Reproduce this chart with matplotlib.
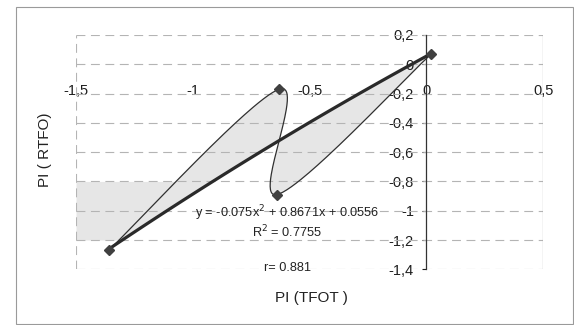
import numpy as np
import matplotlib
matplotlib.use("Agg")
import matplotlib.pyplot as plt
from matplotlib.patches import Rectangle

plt.rcParams["font.family"] = ["Liberation Sans", "DejaVu Sans"]

# punti
tfot = [-1.36, -0.63, -0.64, 0.02]
rtfo = [-1.27, -0.17, -0.89, 0.07]

# trend polinomiale (coefficienti dal grafico)
coef = [-0.075, 0.8671, 0.0556]
eq_txt = "y = -0.075x$^2$ + 0.8671x + 0.0556"
r2_txt = "R$^2$ = 0.7755"
r_txt = "r= 0.881"

xticks = [-1.5, -1, -0.5, 0, 0.5]
xlabels = ["-1,5", "-1", "-0,5", "0", "0,5"]
yticks = [0.2, 0, -0.2, -0.4, -0.6, -0.8, -1, -1.2, -1.4]
ylabels = ["0,2", "0", "-0,2", "-0,4", "-0,6", "-0,8", "-1", "-1,2", "-1,4"]


def smooth(xs, ys, n=60):
    # linea smussata tipo excel (bezier catmull-rom)
    P = np.column_stack([xs, ys]).astype(float)
    out = []
    t = np.linspace(0, 1, n)[:, None]
    for i in range(len(P) - 1):
        p0 = P[max(i - 1, 0)]
        p1 = P[i]
        p2 = P[i + 1]
        p3 = P[min(i + 2, len(P) - 1)]
        c1 = p1 + (p2 - p0) / 6
        c2 = p2 - (p3 - p1) / 6
        seg = (1 - t) ** 3 * p1 + 3 * (1 - t) ** 2 * t * c1 + 3 * (1 - t) * t ** 2 * c2 + t ** 3 * p2
        out.append(seg)
    return out


W, H = 574, 325
fig = plt.figure(figsize=(W / 100, H / 100), dpi=100)
fig.patch.set_facecolor("white")
fig.patches.append(Rectangle((16 / W, 1 - 324 / H), (573 - 16) / W, (324 - 7) / H,
                             transform=fig.transFigure, fill=False, ec="#9a9a9a", lw=0.8))

ax = fig.add_axes([76 / W, 1 - 269.3 / H, (543.3 - 76) / W, (269.3 - 35) / H])
ax.set_xlim(-1.5, 0.5)
ax.set_ylim(-1.4, 0.2)

segs = smooth(tfot, rtfo)
curve = np.vstack(segs)

xt = np.linspace(min(tfot), max(tfot), 100)
yt = np.polyval(coef, xt)

# zone grigie
grigio = "#e6e6e6"
ax.fill(np.concatenate([curve[:, 0], xt[::-1]]), np.concatenate([curve[:, 1], yt[::-1]]),
        color=grigio, lw=0, zorder=1)
s1 = segs[0]
yb = np.linspace(-1.2, -0.8, 50)
xb = np.interp(yb, s1[:, 1], s1[:, 0])
ax.fill_betweenx(yb, -1.5, xb, color=grigio, lw=0, zorder=1)

# griglia
for y in yticks:
    ax.axhline(y, color="#b4b4b4", lw=0.8, ls=(0, (8, 5)), zorder=2)
ax.axvline(-1.5, color="#b4b4b4", lw=0.8, ls=(0, (8, 5)), zorder=2)
ax.axvline(0.5, color="#a8a8a8", lw=0.9, zorder=2)

ax.plot(curve[:, 0], curve[:, 1], color="#303030", lw=0.9, zorder=3)
ax.plot(xt, yt, color="#2a2a2a", lw=2.3, zorder=4)
ax.plot(tfot, rtfo, ls="none", marker="D", ms=5, color="#404040", zorder=5)

for s in ["top", "right"]:
    ax.spines[s].set_visible(False)
ax.spines["left"].set_position(("data", 0))
ax.spines["left"].set_color("#333333")
ax.spines["left"].set_linewidth(0.9)
ax.spines["bottom"].set_position(("data", 0))
ax.spines["bottom"].set_visible(False)

ax.set_xticks(xticks)
ax.set_xticklabels(xlabels)
ax.set_yticks(yticks)
ax.set_yticklabels(ylabels)
ax.tick_params(axis="x", length=0, pad=14, labelsize=10.5, colors="#1e1e1e")
ax.tick_params(axis="y", length=3, width=0.8, pad=6, labelsize=10.5, colors="#1e1e1e", direction="out")
ax.patch.set_alpha(0)

fig.text(287 / W, 1 - 213 / H, eq_txt, ha="center", va="center", fontsize=9.2, color="#222222")
fig.text(287 / W, 1 - 232 / H, r2_txt, ha="center", va="center", fontsize=9.2, color="#222222")
fig.text(287 / W, 1 - 268 / H, r_txt, ha="center", va="center", fontsize=9.2, color="#222222")
fig.text(311 / W, 1 - 298 / H, "PI (TFOT )", ha="center", va="center", fontsize=11, color="#222222")
fig.text(45 / W, 1 - 150 / H, "PI ( RTFO)", ha="center", va="center", rotation=90, fontsize=11, color="#222222")

fig.savefig("out.png", dpi=100)
